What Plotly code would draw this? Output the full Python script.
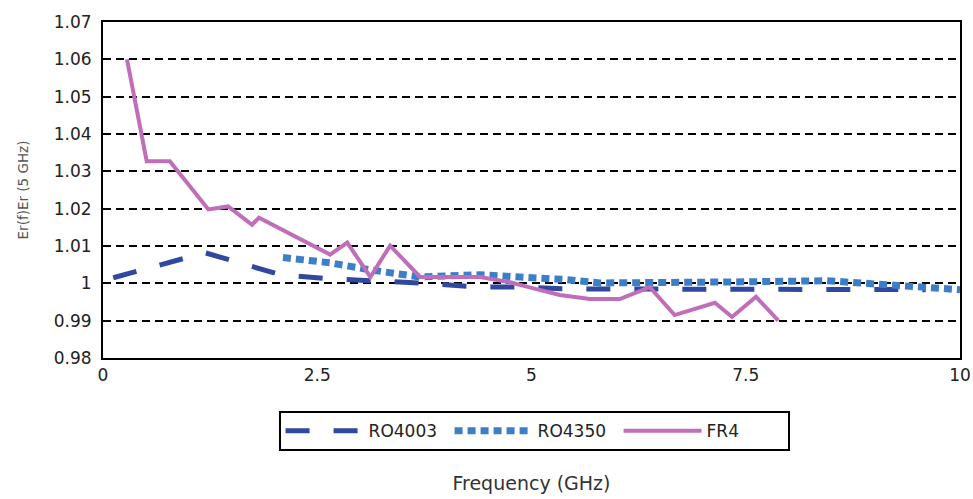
import plotly.graph_objects as go

# FR4
fr4_x = [0.28, 0.51, 0.78, 1.23, 1.46, 1.74, 1.82, 2.65, 2.85, 3.12, 3.35, 3.70, 4.40, 4.75, 5.00, 5.33, 5.68, 6.03, 6.38, 6.67, 7.14, 7.34, 7.62, 7.88]
fr4_y = [1.060, 1.0327, 1.0327, 1.0198, 1.0206, 1.0157, 1.0176, 1.0077, 1.0109, 1.0017, 1.0101, 1.0017, 1.0017, 1.0003, 0.9988, 0.9969, 0.9958, 0.9958, 0.9990, 0.9915, 0.9948, 0.9910, 0.9964, 0.9900]

# RO4003
ro4003_x = [0.12, 1.19, 2.07, 2.65, 3.12, 3.70, 4.40, 4.87, 5.40, 6.0, 7.0, 8.0, 9.0, 9.60]
ro4003_y = [1.0015, 1.0082, 1.0023, 1.0012, 1.0007, 1.0001, 0.9990, 0.9990, 0.9985, 0.9985, 0.9985, 0.9985, 0.9985, 0.9983]

# RO4350
ro4350_x = [2.10, 2.65, 3.12, 3.47, 3.70, 4.40, 4.75, 4.95, 5.41, 5.80, 6.5, 7.5, 8.45, 8.90, 9.40, 10.0]
ro4350_y = [1.0069, 1.0055, 1.0036, 1.0023, 1.0017, 1.0023, 1.0020, 1.0017, 1.0010, 1.0001, 1.0004, 1.0004, 1.0007, 1.0000, 0.9996, 0.9983]

x_ticks = [0, 2.5, 5, 7.5, 10]
x_tick_text = ["0", "2.5", "5", "7.5", "10"]
y_ticks = [0.98, 0.99, 1.0, 1.01, 1.02, 1.03, 1.04, 1.05, 1.06, 1.07]
y_tick_text = ["0.98", "0.99", "1", "1.01", "1.02", "1.03", "1.04", "1.05", "1.06", "1.07"]

fig = go.Figure()
fig.add_trace(go.Scatter(x=ro4003_x, y=ro4003_y, mode="lines", name="RO4003",
                         line=dict(color="#3048A0", width=5, dash="24px,24px")))
fig.add_trace(go.Scatter(x=ro4350_x, y=ro4350_y, mode="lines", name="RO4350",
                         line=dict(color="#3D7EC8", width=7, dash="8px,5px")))
fig.add_trace(go.Scatter(x=fr4_x, y=fr4_y, mode="lines", name="FR4",
                         line=dict(color="#C06DBA", width=4)))

font_family = "DejaVu Sans, Liberation Sans, sans-serif"
fig.update_layout(
    width=973, height=499,
    margin=dict(l=103, r=13, t=22, b=141),
    paper_bgcolor="white", plot_bgcolor="white",
    font=dict(family=font_family, color="#222"),
    showlegend=True,
    legend=dict(orientation="h", x=0.503, xanchor="center", y=-0.158, yanchor="top",
                bordercolor="black", borderwidth=2, font=dict(size=17, color="#222"),
                itemwidth=78, entrywidth=76, tracegroupgap=0),
    xaxis=dict(range=[0, 10], tickvals=x_ticks, ticktext=x_tick_text, showgrid=False,
               showline=True, linecolor="black", linewidth=2, mirror=True, zeroline=False,
               ticks="", tickfont=dict(size=17), ticklabelstandoff=1, automargin=False,
               title=dict(text="Frequency (GHz)", font=dict(size=19, color="#333"), standoff=92)),
    yaxis=dict(range=[0.98, 1.07], tickvals=y_ticks, ticktext=y_tick_text,
               showgrid=True, gridcolor="black", gridwidth=2, griddash="8px,5px",
               showline=True, linecolor="black", linewidth=2, mirror=True, zeroline=False,
               ticks="", tickfont=dict(size=17), ticklabelstandoff=6, automargin=False,
               title=dict(text="Er(f)Er (5 GHz)", font=dict(size=13.5, color="#555"), standoff=22)),
)

fig.write_html("out.html", config={"displayModeBar": False},
               post_script="document.body.style.margin='0';document.body.style.overflow='hidden';")
